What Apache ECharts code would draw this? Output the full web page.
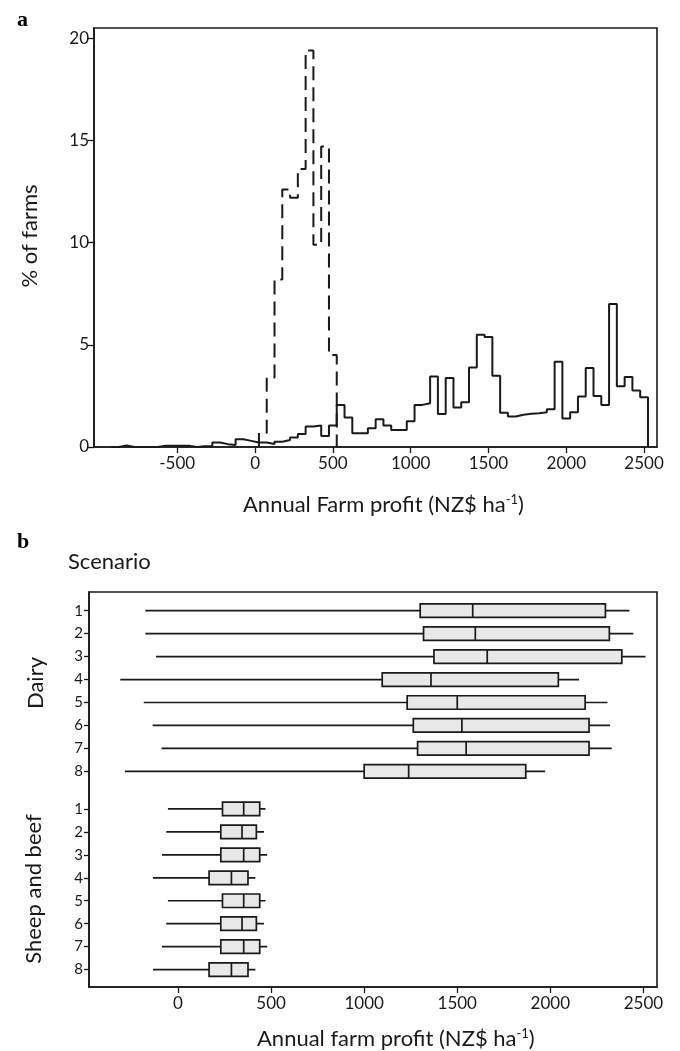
<!DOCTYPE html>
<html><head><meta charset="utf-8">
<script src="https://cdn.jsdelivr.net/npm/echarts@6/dist/echarts.min.js"></script>
<style>html,body{margin:0;padding:0;background:#fff}#c{width:680px;height:1051px}</style>
</head><body><div id="c"></div>
<script>
// ---- Panel a: histogram data (bin centres, NZ$/ha; % of farms) ----
const solidBins = [-900,-850,-800,-750,-700,-650,-600,-550,-500,-450,-400,-350,-300,-250,-200,-150,-100,-50,
  0,50,100,150,200,250,300,350,400,450,500,550,600,650,700,750,800,850,900,950,1000,1050,1100,1150,1200,1250,
  1300,1350,1400,1450,1500,1550,1600,1650,1700,1750,1800,1850,1900,1950,2000,2050,2100,2150,2200,2250,2300,
  2350,2400,2450,2500];
const solidPct = [0,0.08,0,0,0,0,0.06,0.06,0.06,0.06,0,0.04,0.05,0.22,0.14,0.1,0.38,0.3,
  0.22,0.22,0.15,0.26,0.34,0.47,0.64,1.0,1.05,0.54,1.05,2.06,1.44,0.67,0.67,0.92,1.36,1.05,0.83,0.83,1.26,2.06,2.14,3.45,1.62,3.37,
  1.93,2.19,3.89,5.49,5.38,3.48,1.68,1.49,1.58,1.63,1.65,1.7,1.85,4.17,1.4,1.7,2.47,3.86,2.5,2.06,7.0,
  2.97,3.43,2.76,2.44];
const dashedBins = [50,100,150,200,250,300,350,400,450,500];
const dashedPct = [0.7,3.4,8.2,12.6,12.2,13.6,19.4,9.9,14.7,4.5];
const histTicksX = [-500,0,500,1000,1500,2000,2500];
const histTicksY = [0,5,10,15,20];

// ---- Panel b: box plots (min, Q1, median, Q3, max) ----
const scenarioLabels = ['1','2','3','4','5','6','7','8'];
const dairyMin = [-175,-175,-118,-310,-184,-136,-88,-285];
const dairyQ1  = [1301,1319,1375,1097,1231,1264,1287,1000];
const dairyMed = [1583,1597,1661,1359,1500,1525,1548,1239];
const dairyQ3  = [2296,2317,2384,2043,2187,2208,2208,1868];
const dairyMax = [2425,2446,2511,2154,2307,2321,2330,1972];
const sheepMin = [-54,-63,-86,-134,-54,-63,-86,-134];
const sheepQ1  = [239,230,230,167,239,230,230,167];
const sheepMed = [353,344,353,287,353,344,353,287];
const sheepQ3  = [439,421,439,376,439,421,439,376];
const sheepMax = [470,462,479,416,470,462,479,416];
const boxTicksX = [0,500,1000,1500,2000,2500];

// ---- build step-line data from bins ----
const HALF = 25;
function stepData(bins, vals){
  const d = [[bins[0]-HALF, 0]];
  for (let i=0;i<bins.length;i++) d.push([bins[i]-HALF, vals[i]]);
  d.push([bins[bins.length-1]+HALF, 0]);
  return d;
}
const GROUP_GAP = 8.64;
const rowPos = [];
const boxData = [];
scenarioLabels.forEach((l,i)=>{ rowPos.push(i); boxData.push([i, dairyMin[i], dairyQ1[i], dairyMed[i], dairyQ3[i], dairyMax[i]]); });
scenarioLabels.forEach((l,i)=>{ const p = GROUP_GAP+i; rowPos.push(p); boxData.push([p, sheepMin[i], sheepQ1[i], sheepMed[i], sheepQ3[i], sheepMax[i]]); });
function rowLabel(v){
  let best=0, bd=1e9;
  rowPos.forEach((p,i)=>{ const d=Math.abs(p-v); if(d<bd){bd=d;best=i;} });
  return scenarioLabels[best % 8];
}
const plain = v => String(Math.round(v));

const INK = '#1a1a1a';
const FONT = 'Lato';
const axisLine = {show:true, onZero:false, lineStyle:{color:INK, width:1.6}};
const tick = (vals, len)=>({show:true, inside:false, length:len, customValues:vals, lineStyle:{color:INK, width:1.3}});

const chart = echarts.init(document.getElementById('c'), null, {renderer:'canvas'});
chart.setOption({
  animation:false,
  backgroundColor:'#fff',
  textStyle:{fontFamily:FONT, color:INK},
  grid:[
    {left:94, right:23, top:28, height:419, show:true, borderColor:INK, borderWidth:1.6, containLabel:false},
    {left:89, right:23, top:592, height:395, show:true, borderColor:INK, borderWidth:1.6, containLabel:false}
  ],
  xAxis:[
    {type:'value', gridIndex:0, min:-1035, max:2583, axisLine, splitLine:{show:false},
     axisTick:tick(histTicksX,6),
     axisLabel:{customValues:histTicksX, fontSize:17, color:INK, margin:8, fontFamily:FONT, formatter:plain}},
    {type:'value', gridIndex:1, min:-478, max:2573, axisLine, splitLine:{show:false},
     axisTick:tick(boxTicksX,6),
     axisLabel:{customValues:boxTicksX, fontSize:17, color:INK, margin:8, fontFamily:FONT, formatter:plain}}
  ],
  yAxis:[
    {type:'value', gridIndex:0, min:0, max:20.5, axisLine, splitLine:{show:false},
     axisTick:tick(histTicksY,6),
     axisLabel:{customValues:histTicksY, fontSize:17, color:INK, margin:5, fontFamily:FONT, formatter:plain}},
    {type:'value', gridIndex:1, min:-0.815, max:16.4, inverse:true, axisLine, splitLine:{show:false},
     axisTick:tick(rowPos,5),
     axisLabel:{customValues:rowPos, fontSize:15, color:INK, margin:6, fontFamily:FONT, formatter:rowLabel}}
  ],
  series:[
    {type:'line', xAxisIndex:0, yAxisIndex:0, step:'end', symbol:'none', data:stepData(solidBins, solidPct),
     lineStyle:{color:INK, width:2}},
    {type:'line', xAxisIndex:0, yAxisIndex:0, step:'end', symbol:'none', data:stepData(dashedBins, dashedPct),
     lineStyle:{color:INK, width:2, type:[14,7]}},
    {type:'custom', xAxisIndex:1, yAxisIndex:1, data:boxData, encode:{x:[1,2,3,4,5], y:0},
     renderItem:function(params, api){
       const y = api.value(0);
       const lo = api.coord([api.value(1), y]);
       const q1 = api.coord([api.value(2), y]);
       const md = api.coord([api.value(3), y]);
       const q3 = api.coord([api.value(4), y]);
       const hi = api.coord([api.value(5), y]);
       const h = 13.5;
       return {type:'group', children:[
         {type:'line', shape:{x1:lo[0], y1:lo[1], x2:hi[0], y2:hi[1]}, style:{stroke:INK, lineWidth:1.7}},
         {type:'rect', shape:{x:q1[0], y:q1[1]-h/2, width:q3[0]-q1[0], height:h}, style:{fill:'#e8e8e8', stroke:INK, lineWidth:1.7}},
         {type:'line', shape:{x1:md[0], y1:md[1]-h/2, x2:md[0], y2:md[1]+h/2}, style:{stroke:INK, lineWidth:1.7}}
       ]};
     }}
  ],
  graphic:[
    {type:'text', left:17, top:9, style:{text:'a', font:'bold 22px "Liberation Serif"', fill:'#000'}},
    {type:'text', left:17, top:531, style:{text:'b', font:'bold 22px "Liberation Serif"', fill:'#000'}},
    {type:'text', x:30, y:236, rotation:Math.PI/2, style:{text:'% of farms', font:'22px Lato', fill:INK, align:'center', verticalAlign:'middle'}},
    {type:'text', x:243, y:505, style:{text:'Annual Farm profit (NZ$ ha{sup|-1})', font:'22px Lato', fill:INK, align:'left', verticalAlign:'middle',
      rich:{sup:{fontSize:13, fontFamily:'Lato', verticalAlign:'bottom', padding:[0,0,10,0]}}}},
    {type:'text', x:68, y:562, style:{text:'Scenario', font:'22px Lato', fill:INK, align:'left', verticalAlign:'middle'}},
    {type:'text', x:36, y:683, rotation:Math.PI/2, style:{text:'Dairy', font:'22px Lato', fill:INK, align:'center', verticalAlign:'middle'}},
    {type:'text', x:34, y:889, rotation:Math.PI/2, style:{text:'Sheep and beef', font:'22px Lato', fill:INK, align:'center', verticalAlign:'middle'}},
    {type:'text', x:257, y:1039, style:{text:'Annual farm profit (NZ$ ha{sup|-1})', font:'22px Lato', fill:INK, align:'left', verticalAlign:'middle',
      rich:{sup:{fontSize:13, fontFamily:'Lato', verticalAlign:'bottom', padding:[0,0,10,0]}}}}
  ]
});
</script></body></html>
